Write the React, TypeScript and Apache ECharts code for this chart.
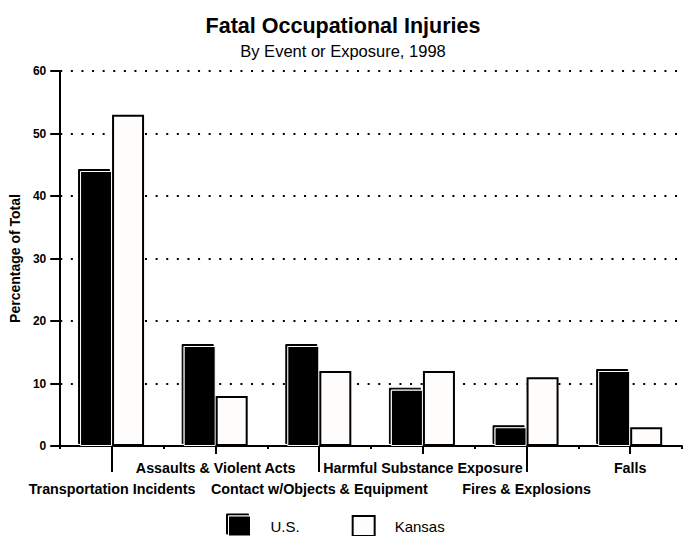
import React, { useEffect, useRef } from "react";
import * as echarts from "echarts";

const categories = [
  "Transportation Incidents",
  "Assaults & Violent Acts",
  "Contact w/Objects & Equipment",
  "Harmful Substance Exposure",
  "Fires & Explosions",
  "Falls",
];
const usValues = [44, 16, 16, 9, 3, 12];
const kansasValues = [53, 8, 12, 12, 11, 3];
const yTicks = { min: 0, max: 60, interval: 10 };

const FONT = "'Liberation Sans', Arial, sans-serif";

export default function App() {
  const ref = useRef<HTMLDivElement>(null);
  useEffect(() => {
    if (!ref.current) return;
    const chart = echarts.init(ref.current, undefined, { renderer: "svg" });
    const gridBox = { left: 60, right: 4, top: 71, bottom: 90 };
    const usStyle = {
      color: "#000",
      borderColor: "#fff",
      borderWidth: 1,
      borderJoin: "miter",
      shadowColor: "#000",
      shadowOffsetX: -2,
      shadowOffsetY: -2,
      shadowBlur: 0,
    };
    const ksStyle = { color: "#fffdfb", borderColor: "#000", borderWidth: 2, borderJoin: "miter" };
    chart.setOption({
      animation: false,
      backgroundColor: "#ffffff",
      textStyle: { fontFamily: FONT },
      title: {
        text: "Fatal Occupational Injuries",
        subtext: "By Event or Exposure, 1998",
        left: "center",
        top: 10,
        itemGap: 5,
        textStyle: { fontFamily: FONT, fontSize: 21.5, fontWeight: "bold", color: "#000" },
        subtextStyle: { fontFamily: FONT, fontSize: 16.5, color: "#000" },
      },
      legend: {
        top: 515,
        left: 228,
        padding: 0,
        icon: "rect",
        itemWidth: 22,
        itemHeight: 20,
        itemGap: 52,
        textStyle: { fontFamily: FONT, fontSize: 15, color: "#000", padding: [0, 0, 0, 15] },
        data: [
          { name: "U.S.", itemStyle: usStyle },
          { name: "Kansas", itemStyle: ksStyle },
        ],
      },
      grid: [
        { ...gridBox, containLabel: false },
        { ...gridBox, containLabel: false },
        { ...gridBox, containLabel: false },
      ],
      xAxis: [
        {
          type: "category",
          data: categories,
          gridIndex: 0,
          axisLine: { lineStyle: { color: "#000", width: 2 } },
          axisTick: { show: true, length: 3, lineStyle: { color: "#000", width: 2 } },
          axisLabel: {
            interval: 0,
            margin: 11,
            fontFamily: FONT,
            fontSize: 14.3,
            fontWeight: "bold",
            color: "#000",
            lineHeight: 21,
            formatter: (v: string, i: number) => (i % 2 === 0 ? "\n" + v : v),
          },
        },
        {
          type: "category",
          data: categories,
          gridIndex: 1,
          axisLine: { show: false },
          axisTick: {
            show: true,
            alignWithLabel: true,
            interval: (i: number) => i % 2 === 0,
            length: 26,
            lineStyle: { color: "#000", width: 2 },
          },
          axisLabel: { show: false },
        },
        {
          type: "category",
          data: categories,
          gridIndex: 2,
          axisLine: { show: false },
          axisTick: {
            show: true,
            alignWithLabel: true,
            interval: (i: number) => i % 2 === 1,
            length: 8,
            lineStyle: { color: "#000", width: 2 },
          },
          axisLabel: { show: false },
        },
      ],
      yAxis: [
        {
          type: "value",
          gridIndex: 0,
          min: yTicks.min,
          max: yTicks.max,
          interval: yTicks.interval,
          name: "Percentage of Total",
          nameLocation: "middle",
          nameGap: 38,
          nameTextStyle: { fontFamily: FONT, fontSize: 14, fontWeight: "bold", color: "#000" },
          axisLine: { show: true, lineStyle: { color: "#000", width: 2 } },
          axisTick: { show: true, length: 10, lineStyle: { color: "#000", width: 2 } },
          axisLabel: { fontFamily: FONT, fontSize: 12, fontWeight: "bold", color: "#000", margin: 14 },
          splitLine: { show: true, lineStyle: { color: "#000", width: 2, type: [2, 8.6] } },
        },
        { type: "value", gridIndex: 1, min: 0, max: 60, show: false },
        { type: "value", gridIndex: 2, min: 0, max: 60, show: false },
      ],
      series: [
        {
          name: "U.S.",
          type: "bar",
          xAxisIndex: 0,
          yAxisIndex: 0,
          data: usValues,
          barWidth: 32,
          barGap: "0%",
          itemStyle: usStyle,
        },
        {
          name: "Kansas",
          type: "bar",
          xAxisIndex: 0,
          yAxisIndex: 0,
          data: kansasValues,
          barWidth: 32,
          barGap: "0%",
          itemStyle: ksStyle,
        },
      ],
    });
    return () => chart.dispose();
  }, []);
  return (
    <div
      ref={ref}
      style={{ position: "fixed", left: 0, top: 0, width: 686, height: 536 }}
    />
  );
}
